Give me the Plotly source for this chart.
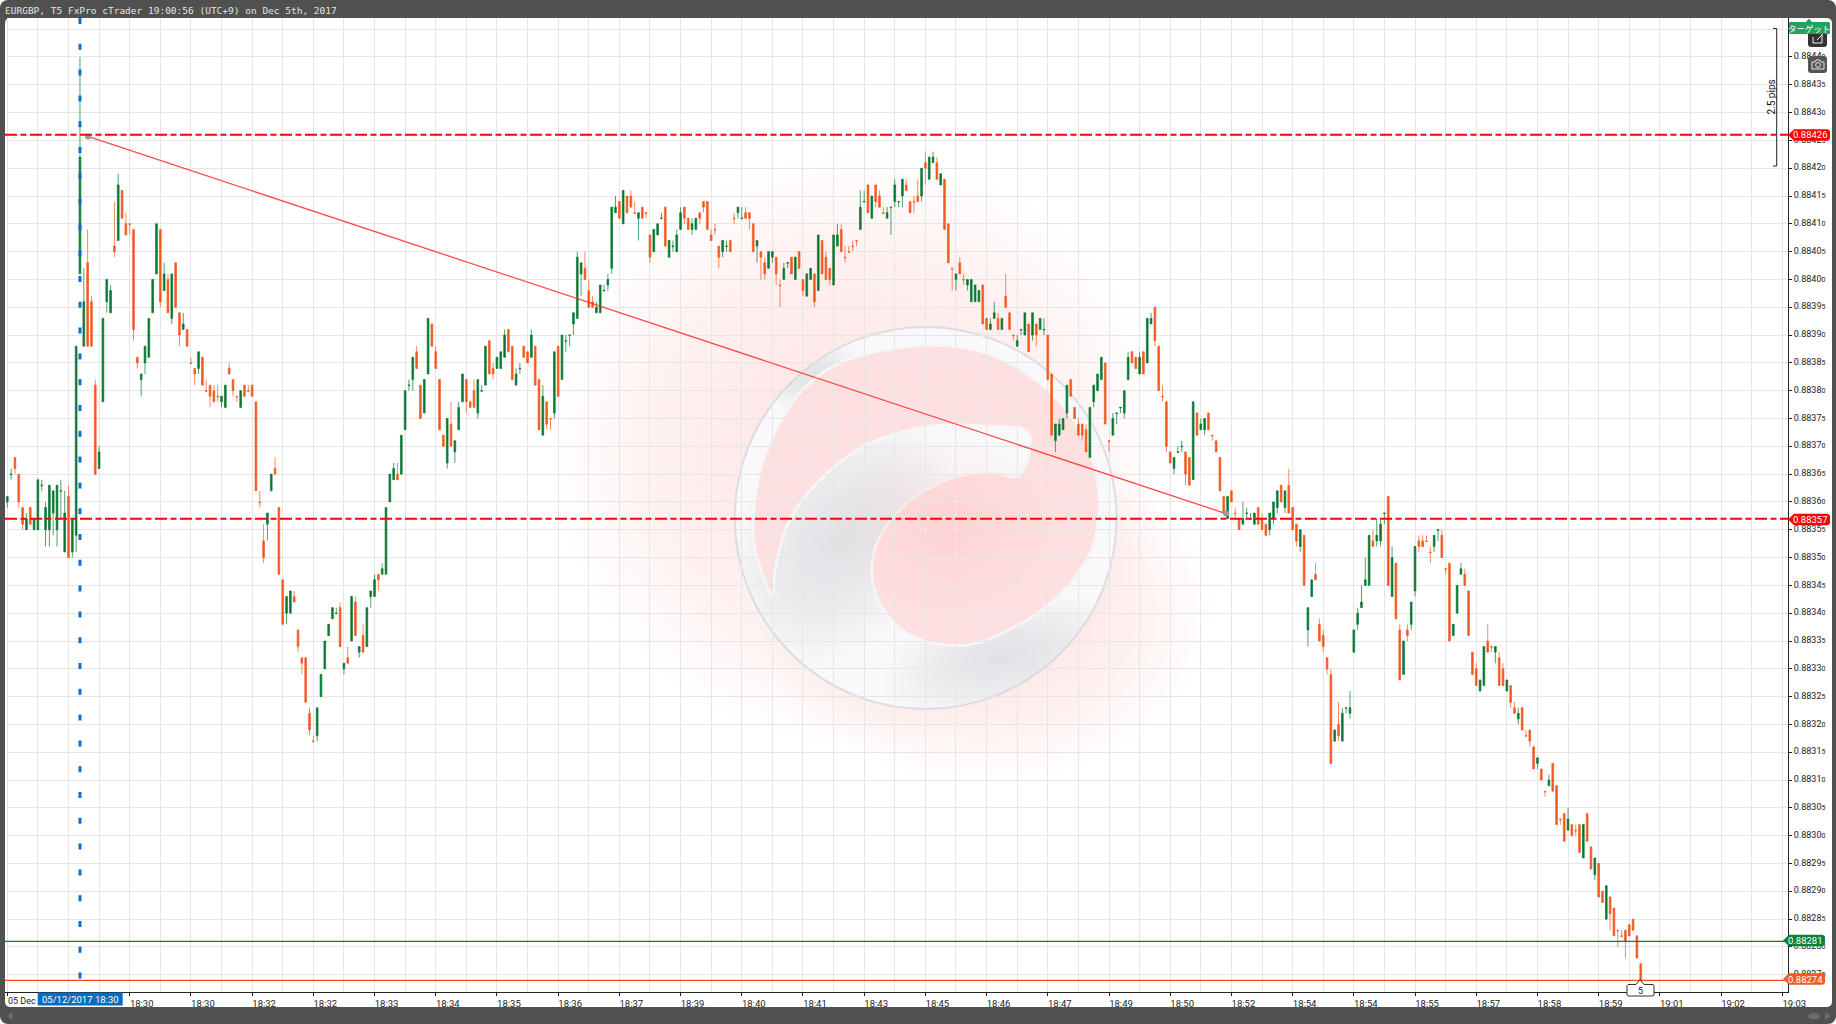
import base64
import plotly.graph_objects as go

opens = [
360,364.9,368,365,359,355,359,355,355,362.9,
355,355,358,355,361.9,351,361,351,354,401,
388,403,396,381,366,378,396,394,406,407,
416,410,410,409,386,382,385,386,394,401,
409,398,400,393,403,394,391,391,385,384,
384,386,380,381,380,379,378,377,384,382,
379,377,381,380,381,378,360,353,356,362,
366,359,346,340,340,343,337,332,332,322,
317,318,325,330,336,339,339.9,341,330,332,
335,342,333,336,334,343,343,347,347,347,
360,364,365,365,373,380.9,382,387,381,376,
383,392,387,382,372,367,374,369,373,378,
382,378,380,376,379.9,381,389,384,384,384,
386,391,388,381,383.9,388,387,386,388,382,
372,378,375,376,388,382,388.9,389.9,392,393,
401,402,398,396,394,394,397.9,399,402,412,
414,410,415,415,412,411,413,412,408,405,
408,410.9,413,404,405.9,405,409,413,411,409,
409,412,414,414,408,409,406,405,405.9,407,
411,412,410.9,412,412,410,406,405,403,402,
404,404,399,400,402.9,404,400,405,400,397,
400,401,398,407,404,402,399,406,409,404,
405,406,407,409,413.9,417,411,417,415,412,
411,412.9,414,413.9,415,417,414,414,415,415,
421,418,421,421,417,418,410,402,400,403,
400,399,396,396,396,399,393,391,393,393,
391,397,394,390,388,390.9,390,392,390,392,
391,390.9,390,383,371,372,373,376,382,377,
374,374,373,368,378,380,382,385,371,372,
375.9,376.9,376,382,387,386,383,387,385,392,
395,388,379,378,369,366,368.9,369.9,369,368,
364,376,373,373,376,372,371,368,361,357,
362,358,357,356,357.9,356.9,356,359,357,356,
355,357,359,363,359,363,359,356,352,354,
337,343,347,338,336,332,329,317,320,317,
322.9,322,333,338,341,345,345,353,353,353,
357.9,361,343,349,337,329,337,338,344,353,
353,353,351,352,354.9,354,348,349,336,340,
347,347,344,333,330,326,327,335,334,333,
332,330,326,327,323,321,323,318,319,316,
313,312,308,309,313,309,303,304,301,302,
301,302,296,304,298,293,295,290,285,289,
287,283,282,283,284,285,282,277]

highs = [
361,366,368,365,359,358,359,357,364,364,
360,363,362,363,364,362,363,357,388,440,
402,409,397,382,370,393,400,399,414,419,
416,412,410,409,386,383,388,393,400,410,
409,403,401,401,403,394,394,391,386,384,
387,386,382,381,381,381,379,381,385,382,
379,380,381,381,381,378,362,356,358,365,
368,359,346,343,344,344,337,332,332,323,
318,323,329,335,338,341,341,342,331,334,
343,343,334,338,341,344,347,347,349,359,
365,367,367,372,380,382,386,388,381,382,
393,392,388,382,372,375,378,371,378,383,
382,378,382,382,381,388,389,385,386,387,
391,391,388,384,385,388,387,391,388,382,
381,378,375,387,388,390,390,390,394,405,
403,405,400,397,396,399,399,401,413,415,
414,416,415,416,414,412,413,412,408,409,
410,412,413,407,407,409,413,413,411,411,
411,412,414,414,409,410,406,407,407,407,
412,413,413,413,412,410,407,405,404,405,
405,404,400,403,403,404,404,405,400,401,
402,401,408,407,405,402,408,410,410,406,
406,407,407,416,416,417,415,417,416,413,
413,413,418,414,418,418,414,415,418,420,
423,422,423,422,419,418,410,402,401,404,
401,400,400,399,398,399,393,393,396,394,
393,401,394,390,390,391,394,392,394,392,
393,393,390,383,374,375,375,381,382,377,
375,374,374,377,381,383,386,385,371,376,
376,377,380,387,387,386,387,387,393,394,
395,388,381,378,369,368,370,371,369,368,
378,376,375,375,376,372,371,368,361,361,
362,359,357,360,359,358,358,359,358,356,
358,360,362,363,362,366,359,356,355,354,
341,346,349,339,337,332,330,319,324,323,
323,326,337,341,345,350,354,355,357,357,
358,361,352,349,338,335,338,342,352,354,
354,354,352,354,355,355,348,349,338,345,
349,348,344,333,331,328,334,338,334,334,
333,331,328,327,324,323,323,319,319,316,
314,312,308,311,313,309,303,304,305,302,
302,302,302,304,298,296,295,290,291,289,
287,283,283,283,284,285,282,277]

lows = [
359,364,365,359,355,355,356,355,355,362,
352,352,354,352,357,351,350,350,351,401,
388,388,388,365,366,378,394,394,404,407,
411,408,408,389,384,379,383,386,394,401,
395,398,394,392,395,388,391,388,384.9,381,
383,381,379.9,377,378,378,377,377,383,379,
378,377,379,379.9,379,362,359,349,353,362,
365,347,338,338,340,342,333,329,324,318,
316.9,317,325,330,336,339,339.9,334,329,331,
335,336,332,333,334,341,343,344,347,347,
360,364,364,365,373,380,380,384,375,376,
383,388,384,373,370,366,370,367,373,378,
376,377,377,375,379.9,381,383,382,384,384,
386,387,382,381,383,386,385,386,381,373,
372,373,373,375,379,382,387,388,390,393,
397,400,395,395,394,394,397.9,398,401,412,
411,410,412,413,411.9,407,411,411,403,405,
408,410.9,406,404,405,405,409,410,409,408,
409,410,412,409,407,408,402,404,405,405,
410,411,410.9,411,409,405,403,400,400,402,
403,399,395,400,402,401,400,402,397,397,
400,395,398,401,400,399,399,406,405,403,
404.9,405,406,409,413.9,412,411,413,413,411.9,
411,408,413,413,413,416,412,412,414,414,
417,418,421,418,417,409,403,398,398,401,
399,398,396,396,396,392,391,391,393,391,
391,395,391,389,388,390,390,387,389,388,
391,390,382,372,369,372,373,375,379,375,
372,371,369,368,377,380,382,374,369,372,
374,376,375,382,385,384,383,383,385,392,
388,380,378,369,367,365,368.9,369,363,363,
364,372,373,372,373,371,369,362,358,357,
360,357,355,356,357,356.9,356,356,355,354,
354,356,358,360,358,358,355,352,351,345,
334,343,346,335,333,329,313,317,317,317,
322,321,333,337,341,345,345,352,352,352,
356,345,343,339,328,329,335,337,343,351,
352,352.9,349,351,353,350,347,335,336,340,
347,345,336,329,327,326,327,333,333,331,
327,327,326,323,322,320,319,317.9,316,312,
312,310,307,309,308,302,302,299,301,300,
300,297,296,299,294,292,289,288,285,283,
282,280,281.9,278,282,283,278,274]

closes = [
361,365,366,360,356,357,356,357,364,363,
359,363,362,363,362,358,350,357,388,422,
396,388,388,365,369,393,400,398,405,417,
411,408,409.9,391,385,383,388,393,400,410,
396,401,394,401,395,390,392,388,384.9,383,
387,381,379.9,379,378,378.9,379,381,383,380,
378.9,380,379,379.9,379,362,359.9,350,358,365,
365,347,338,343,344,342,334,331,324,319,
316.9,323,329,335,338,341,340,334,331,331,
343,336,334,333,341,344,346,346,348,359,
365,366,364,372,380,381,386,384,375,382,
393,388,384,373,370,375,370,371,377,383,
378,377,377,382,380,388,383,383,386,387,
390,387,382,383,384,386,385,390,381,373,
379,374,374.9,387,379,390,389,390,394,404,
403,400,395,395,395,399,398,400,413,413,
411,416,412,413,411.9,412,411,411.9,404,409,
410,411,406,407,406,408,412,411,409,410,
411,411,413,409,407,408.9,404,407,406,405,
410.9,413,411,411,411,405,407,404,401,405,
405,401,398.9,402,403,401,404,402,398,401,
402,396,408,401,400,400,408,408,405,403.9,
404.9,405.9,406.9,413,414,412,415,414,413,411.9,
412,413,417,414,418,416,412,413.9,414,420,
420,422,422,418,419,409,403,401.9,401,401,
399.9,400,400,399,398,392,391,392,394,391,
393,395,391,389.9,389,391,394,387,394,390,
393,391,382,372,374,374,375,381,379,375,
372,372,369,377,381,383,386,374,370.9,375,
376,377,380,386,385,384,386,383,393,393,
389,380,378.9,370,367,368,369,370,365,363,
378,372,374,375,373,371.9,369,362,358,361,
360,357.9,355,357,358,357,358,356,355,354,
358,360,362,360,362,358,355,353,355,345,
341,346,346,335,334,330,313,319,318,322,
323,323,337,340,342,346,354,352,354,356,
358,345,350,339,328,335,336,342,352,352,
352,352.9,350.9,354,355,350,347.9,335,338,345,
348,345,336,329,327,328,334,333,333.9,334,
327,327,328,324,322,322,319,317.9,317,312,
314,310,307.9,310,308,302,302.9,299,303,300,
300.9,297,302,299,294,296,289,288,291,286,
282,282.9,281.9,281,282,283,278,274]

x_tick_positions = [0,16,32,48,64,80,96,112,128,144,160,176,192,208,224,240,256,272,288,304,
                    320,336,352,368,384,400,416,432,448,464]
x_tick_labels = ["","","18:30","18:30","18:32","18:32","18:33","18:34","18:35","18:36",
                 "18:37","18:39","18:40","18:41","18:43","18:45","18:46","18:47","18:49","18:50",
                 "18:52","18:54","18:54","18:55","18:57","18:58","18:59","19:01","19:02","19:03"]
first_date_label = "05 Dec"
y_tick_values = [275,280,285,290,295,300,305,310,315,320,325,330,335,340,345,350,355,360,365,370,
                 375,380,385,390,395,400,405,410,415,420,425,430,435,440,445]

level_high = 426
level_low = 357
level_bid = 281
level_ask = 274
trend_x = [21.1, 318.6]
trend_y = [425.7, 357.9]
cursor_bar = 19

W, H = 1836, 1024
L, R, T, B = 5, 1788, 18, 992
GREEN, ORANGE = "#087833", "#f4591f"


def price(p):
    return 0.88 + p / 1e5


def fx(px):
    return (px - L) / (R - L)


def fy(py):
    return 1 - (py - T) / (B - T)


def smooth(points):
    """Closed Catmull-Rom outline as an SVG path."""
    n = len(points)
    d = f"M{points[0][0]},{points[0][1]}"
    for i in range(n):
        p0, p1, p2, p3 = points[i - 1], points[i], points[(i + 1) % n], points[(i + 2) % n]
        c1 = (p1[0] + (p2[0] - p0[0]) / 6, p1[1] + (p2[1] - p0[1]) / 6)
        c2 = (p2[0] - (p3[0] - p1[0]) / 6, p2[1] - (p3[1] - p1[1]) / 6)
        d += f" C{c1[0]:.1f},{c1[1]:.1f} {c2[0]:.1f},{c2[1]:.1f} {p2[0]},{p2[1]}"
    return d + " Z"


pink_outline = [(155, 825), (108, 700), (100, 590), (130, 420), (230, 230), (380, 120), (620, 75), (800, 100),
                (960, 190), (1080, 330), (1130, 470), (1135, 590), (1100, 720), (980, 860), (800, 960),
                (680, 975), (560, 940), (480, 850), (455, 750), (480, 650), (560, 550), (680, 480), (800, 455),
                (900, 465), (925, 340), (800, 318), (620, 320), (430, 380), (280, 500), (200, 620), (165, 750)]

backdrop_svg = f"""<svg xmlns='http://www.w3.org/2000/svg' width='{W}' height='{H}' viewBox='0 0 {W} {H}'>
<defs>
<radialGradient id='g1'><stop offset='0' stop-color='#ff4a4a' stop-opacity='.17'/><stop offset='.65' stop-color='#ff4a4a' stop-opacity='.08'/><stop offset='1' stop-color='#ff4a4a' stop-opacity='0'/></radialGradient>
<radialGradient id='gr'><stop offset='0' stop-color='#c8c9cf' stop-opacity='.5'/><stop offset='.55' stop-color='#c8c9cf' stop-opacity='.28'/><stop offset='1' stop-color='#c8c9cf' stop-opacity='0'/></radialGradient>
<radialGradient id='pk'><stop offset='0' stop-color='#ff9a9a' stop-opacity='.18'/><stop offset='1' stop-color='#ff9a9a' stop-opacity='0'/></radialGradient>
<clipPath id='disc'><circle cx='617' cy='594' r='573'/></clipPath>
</defs>
<rect width='{W}' height='{H}' rx='8' fill='#505050'/>
<rect x='5' y='18' width='1827' height='989' rx='5' fill='#ffffff'/>
<ellipse cx='860' cy='450' rx='310' ry='300' fill='url(#g1)'/>
<ellipse cx='985' cy='610' rx='230' ry='175' fill='url(#g1)'/>
<g transform='translate(720,320) scale(0.33333)'>
<circle cx='617' cy='594' r='573' fill='#f9f9fb' stroke='#dcdde0' stroke-width='6'/>
<g clip-path='url(#disc)'>
<ellipse cx='360' cy='660' rx='300' ry='430' transform='rotate(38 360 660)' fill='url(#gr)'/>
<ellipse cx='850' cy='1010' rx='380' ry='170' transform='rotate(-14 850 1010)' fill='url(#gr)'/>
<ellipse cx='290' cy='170' rx='170' ry='120' fill='url(#gr)'/>
</g>
<path d='{smooth(pink_outline)}' fill='#ffe0e0' stroke='#f7f7f7' stroke-width='8'/>
<ellipse cx='680' cy='620' rx='360' ry='300' fill='url(#pk)'/>
</g>
</svg>"""

icons_svg = f"""<svg xmlns='http://www.w3.org/2000/svg' width='{W}' height='{H}' viewBox='0 0 {W} {H}'>
<rect x='1808' y='31' width='19' height='16' rx='3' fill='#333333'/>
<path d='M1813 37v6h9v-10' fill='none' stroke='#eeeeee' stroke-width='1'/>
<path d='M1817 40l5-5' fill='none' stroke='#eeeeee' stroke-width='1'/>
<rect x='1808' y='56' width='19' height='17' rx='3' fill='#555555'/>
<path d='M1812 62h3l1-2h4l1 2h3v7h-12z' fill='none' stroke='#e6e6e6' stroke-width='1'/>
<circle cx='1818' cy='65' r='2.4' fill='none' stroke='#e6e6e6' stroke-width='1'/>
</svg>"""


def uri(svg):
    return "data:image/svg+xml;base64," + base64.b64encode(svg.encode()).decode()


def poly(points):
    return "M" + " L".join(f"{fx(a):.5f},{fy(b):.5f}" for a, b in points) + " Z"


def price_tag(tip, right, py, color, text):
    half = 5.8
    path = poly([(tip, py), (tip + 6, py - half), (right - 2, py - half), (right, py - half + 2),
                 (right, py + half - 2), (right - 2, py + half), (tip + 6, py + half)])
    shapes.append(dict(type="path", path=path, xref="paper", yref="paper", fillcolor=color,
                       line=dict(width=0), layer="above"))
    annotations.append(dict(text=text, x=fx((tip + 6 + right) / 2 - 1.5), y=fy(py), xref="paper", yref="paper",
                            showarrow=False, xanchor="center", yanchor="middle",
                            font=dict(family="Roboto", size=9.5, color="#ffffff")))


shapes = []
annotations = []

fig = go.Figure()
fig.add_trace(go.Candlestick(
    x=list(range(len(opens))),
    open=[price(v) for v in opens],
    high=[price(v) for v in highs],
    low=[price(v) for v in lows],
    close=[price(v) for v in closes],
    increasing=dict(line=dict(color="rgba(8,120,51,0.7)", width=1), fillcolor=GREEN),
    decreasing=dict(line=dict(color="rgba(244,89,31,0.7)", width=1), fillcolor=ORANGE),
    whiskerwidth=0, hoverinfo="skip", showlegend=False))
fig.add_trace(go.Scatter(
    x=trend_x, y=[price(v) for v in trend_y], mode="lines+markers",
    line=dict(color="rgba(255,40,40,0.85)", width=1.3),
    marker=dict(color="#9a9a9a", size=6), hoverinfo="skip", showlegend=False))

# level lines
for lvl in (level_high, level_low):
    shapes.append(dict(type="line", xref="paper", x0=0, x1=1, yref="y", y0=price(lvl), y1=price(lvl),
                       line=dict(color="#ff0000", width=2, dash="12px,3.5px,6px,3.5px"), layer="above"))
shapes.append(dict(type="line", xref="paper", x0=0, x1=1, yref="y", y0=price(level_bid), y1=price(level_bid),
                   line=dict(color="#0c7a3c", width=1.2), layer="above"))
shapes.append(dict(type="line", xref="paper", x0=0, x1=1, yref="y", y0=price(level_ask), y1=price(level_ask),
                   line=dict(color="#f05018", width=1.2), layer="above"))
# cursor line
shapes.append(dict(type="line", xref="x", x0=cursor_bar, x1=cursor_bar, yref="paper", y0=1, y1=0,
                   line=dict(color="#0a6fd0", width=3, dash="6px,19.8px"), layer="above"))

# measuring bracket
shapes.append(dict(type="path", xref="paper", yref="paper", layer="above",
                   path="M" + " L".join(f"{fx(a):.5f},{fy(b):.5f}" for a, b in
                                        [(1773, 28.5), (1776.7, 28.5), (1776.7, 166), (1773, 166)]),
                   line=dict(color="#222222", width=1)))
annotations.append(dict(text="2.5 pips", x=fx(1770.5), y=fy(97), xref="paper", yref="paper", showarrow=False,
                        textangle=-90, xanchor="center", yanchor="middle",
                        font=dict(family="Roboto", size=10, color="#111111")))

# price tags
price_tag(1788, 1830, 135, "#ff0000", "0.88426")
price_tag(1788, 1830, 519.5, "#ff0000", "0.88357")
price_tag(1783, 1825, 940.5, "#0a8238", "0.88281")
price_tag(1783, 1825, 979, "#f4591f", "0.88274")

# target tag
shapes.append(dict(type="path", xref="paper", yref="paper", layer="above", fillcolor="#23a25f", line=dict(width=0),
                   path=poly([(1790, 22), (1806, 22), (1809, 18.5), (1812, 22), (1829, 22), (1830, 23), (1830, 33),
                              (1829, 34), (1790, 34), (1789, 33), (1789, 23)])))
annotations.append(dict(text="ターゲット", x=fx(1809.5), y=fy(28.3), xref="paper", yref="paper", showarrow=False,
                        xanchor="center", yanchor="middle",
                        font=dict(family="Noto Sans CJK JP", size=8.5, color="#ffffff")))

# first date label
annotations.append(dict(text=first_date_label, x=fx(5.8), y=fy(1000.5), xref="paper", yref="paper", showarrow=False,
                        xanchor="left", yanchor="middle",
                        font=dict(family="Roboto", size=9, color="#222222")))

# time crosshair tag
shapes.append(dict(type="rect", xref="paper", yref="paper", x0=fx(37.7), x1=fx(122.7), y0=fy(992.5), y1=fy(1005.5),
                   fillcolor="#0a6cbc", line=dict(width=0), layer="above"))
annotations.append(dict(text="05/12/2017 18:30", x=fx(80.5), y=fy(999), xref="paper", yref="paper", showarrow=False,
                        xanchor="center", yanchor="middle",
                        font=dict(family="Roboto", size=9.5, color="#ffffff")))

# tick count tag
shapes.append(dict(type="path", xref="paper", yref="paper", layer="above", fillcolor="#ffffff",
                   line=dict(color="#333333", width=1),
                   path=poly([(1628, 984.5), (1636, 984.5), (1640, 979.5), (1644, 984.5), (1653, 984.5),
                              (1654, 985.5), (1654, 995), (1653, 996), (1628, 996), (1627, 995), (1627, 985.5)])))
annotations.append(dict(text="5", x=fx(1640.5), y=fy(990.5), xref="paper", yref="paper", showarrow=False,
                        xanchor="center", yanchor="middle",
                        font=dict(family="Roboto", size=9, color="#111111")))

# scrollbar furniture
shapes.append(dict(type="path", xref="paper", yref="paper", layer="above", fillcolor="#6c6c6c", line=dict(width=0),
                   path=poly([(7, 1016), (12.5, 1012), (12.5, 1020)])))
shapes.append(dict(type="path", xref="paper", yref="paper", layer="above", fillcolor="#6c6c6c", line=dict(width=0),
                   path=poly([(1831, 1016), (1825, 1012), (1825, 1020)])))
shapes.append(dict(type="circle", xref="paper", yref="paper", x0=fx(1808), x1=fx(1820), y0=fy(1013), y1=fy(1019.5),
                   fillcolor="#6c6c6c", line=dict(width=0), layer="above"))

# window title
annotations.append(dict(text="EURGBP, T5 FxPro cTrader 19:00:56 (UTC+9) on Dec 5th, 2017", x=fx(3.2), y=fy(10),
                        xref="paper", yref="paper", showarrow=False, xanchor="left", yanchor="middle",
                        font=dict(family="DejaVu Sans Mono", size=9.5, color="#e4e4e4")))

y_tick_text = []
for v in y_tick_values:
    s = f"{v:03d}"
    y_tick_text.append(f"0.88{s[:2]}<span style='font-size:7px'>{s[2]}</span>")

full_image = dict(xref="paper", yref="paper", x=-(L / (R - L)), y=1 + T / (B - T),
                  sizex=W / (R - L), sizey=H / (B - T), xanchor="left", yanchor="top", sizing="stretch")

fig.update_layout(
    width=W, height=H, margin=dict(l=L, r=W - R, t=T, b=H - B, autoexpand=False),
    paper_bgcolor="#ffffff", plot_bgcolor="rgba(0,0,0,0)",
    showlegend=False, boxgap=0.36, hovermode=False,
    font=dict(family="Roboto", size=9.5, color="#222222"),
    shapes=shapes, annotations=annotations,
    images=[dict(source=uri(backdrop_svg), layer="below", **full_image),
            dict(source=uri(icons_svg), layer="above", **full_image)],
    xaxis=dict(
        range=[-0.6, 465.5], rangeslider=dict(visible=False), tickmode="array",
        tickvals=x_tick_positions, ticktext=x_tick_labels, ticklabelshift=12, tickangle=0,
        ticks="outside", ticklen=3, tickcolor="#222222", tickwidth=1, automargin=False,
        showgrid=True, gridcolor="#e6e6e6", gridwidth=1.3, zeroline=False,
        minor=dict(tickmode="linear", tick0=0, dtick=8, showgrid=True, gridcolor="#e6e6e6", gridwidth=1.3, ticks=""),
        showline=True, linecolor="#222222", linewidth=1,
        tickfont=dict(family="Roboto", size=9.5, color="#222222")),
    yaxis=dict(
        side="right", range=[price(271.9), price(447.0)], tickmode="array", automargin=False,
        tickvals=[price(v) for v in y_tick_values], ticktext=y_tick_text, ticklabelshift=-1,
        ticks="outside", ticklen=3, tickcolor="#222222", tickwidth=1,
        showgrid=True, gridcolor="#e6e6e6", gridwidth=1.3, zeroline=False,
        showline=True, linecolor="#222222", linewidth=1,
        tickfont=dict(family="Roboto", size=9, color="#222222")),
)

fig.write_html("out.html", config={"displayModeBar": False},
               post_script="document.body.style.margin='0';document.documentElement.style.overflow='hidden';")
